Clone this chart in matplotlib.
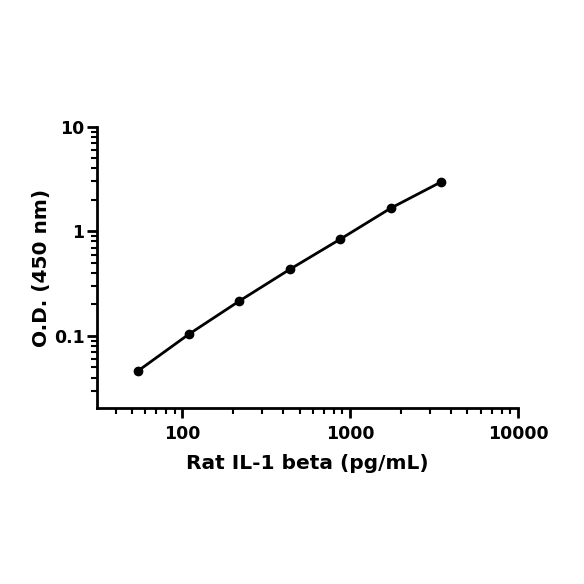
import matplotlib
matplotlib.use('Agg')
import matplotlib.pyplot as plt
from matplotlib.ticker import LogLocator, NullFormatter, FixedLocator, FixedFormatter

# standard curve points (2-fold dilution series)
conc = [54.7, 109.4, 218.75, 437.5, 875, 1750, 3500]
od = [0.0466, 0.104, 0.216, 0.434, 0.844, 1.67, 2.98]

xticks = [100, 1000, 10000]
xlabels = ['100', '1000', '10000']
yticks = [0.1, 1, 10]
ylabels = ['0.1', '1', '10']

plt.rcParams['font.family'] = ['DejaVu Sans']
plt.rcParams['font.weight'] = 'bold'

fig = plt.figure(figsize=(5.84, 5.84), dpi=100)
ax = fig.add_axes([0.166, 0.301, 0.721, 0.482])

ax.plot(conc, od, '-o', color='black', linewidth=2, markersize=6)

ax.set_xscale('log')
ax.set_yscale('log')
ax.set_xlim(31, 10000)
ax.set_ylim(0.0204, 10)

ax.xaxis.set_major_locator(FixedLocator(xticks))
ax.xaxis.set_major_formatter(FixedFormatter(xlabels))
ax.yaxis.set_major_locator(FixedLocator(yticks))
ax.yaxis.set_major_formatter(FixedFormatter(ylabels))
ax.xaxis.set_minor_locator(LogLocator(base=10, subs=range(2, 10)))
ax.yaxis.set_minor_locator(LogLocator(base=10, subs=range(2, 10)))
ax.xaxis.set_minor_formatter(NullFormatter())
ax.yaxis.set_minor_formatter(NullFormatter())

for s in ['top', 'right']:
    ax.spines[s].set_visible(False)
for s in ['left', 'bottom']:
    ax.spines[s].set_linewidth(2)

ax.tick_params(which='major', direction='out', length=7, width=2, labelsize=12.5)
ax.tick_params(axis='x', which='major', pad=5)
ax.tick_params(axis='y', which='major', pad=2)
ax.tick_params(which='minor', direction='out', length=4, width=1.5)

ax.set_xlabel('Rat IL-1 beta (pg/mL)', fontsize=14.5, fontweight='bold', labelpad=8)
ax.set_ylabel('O.D. (450 nm)', fontsize=14.5, fontweight='bold', labelpad=2)

fig.savefig('out.png', dpi=100)
